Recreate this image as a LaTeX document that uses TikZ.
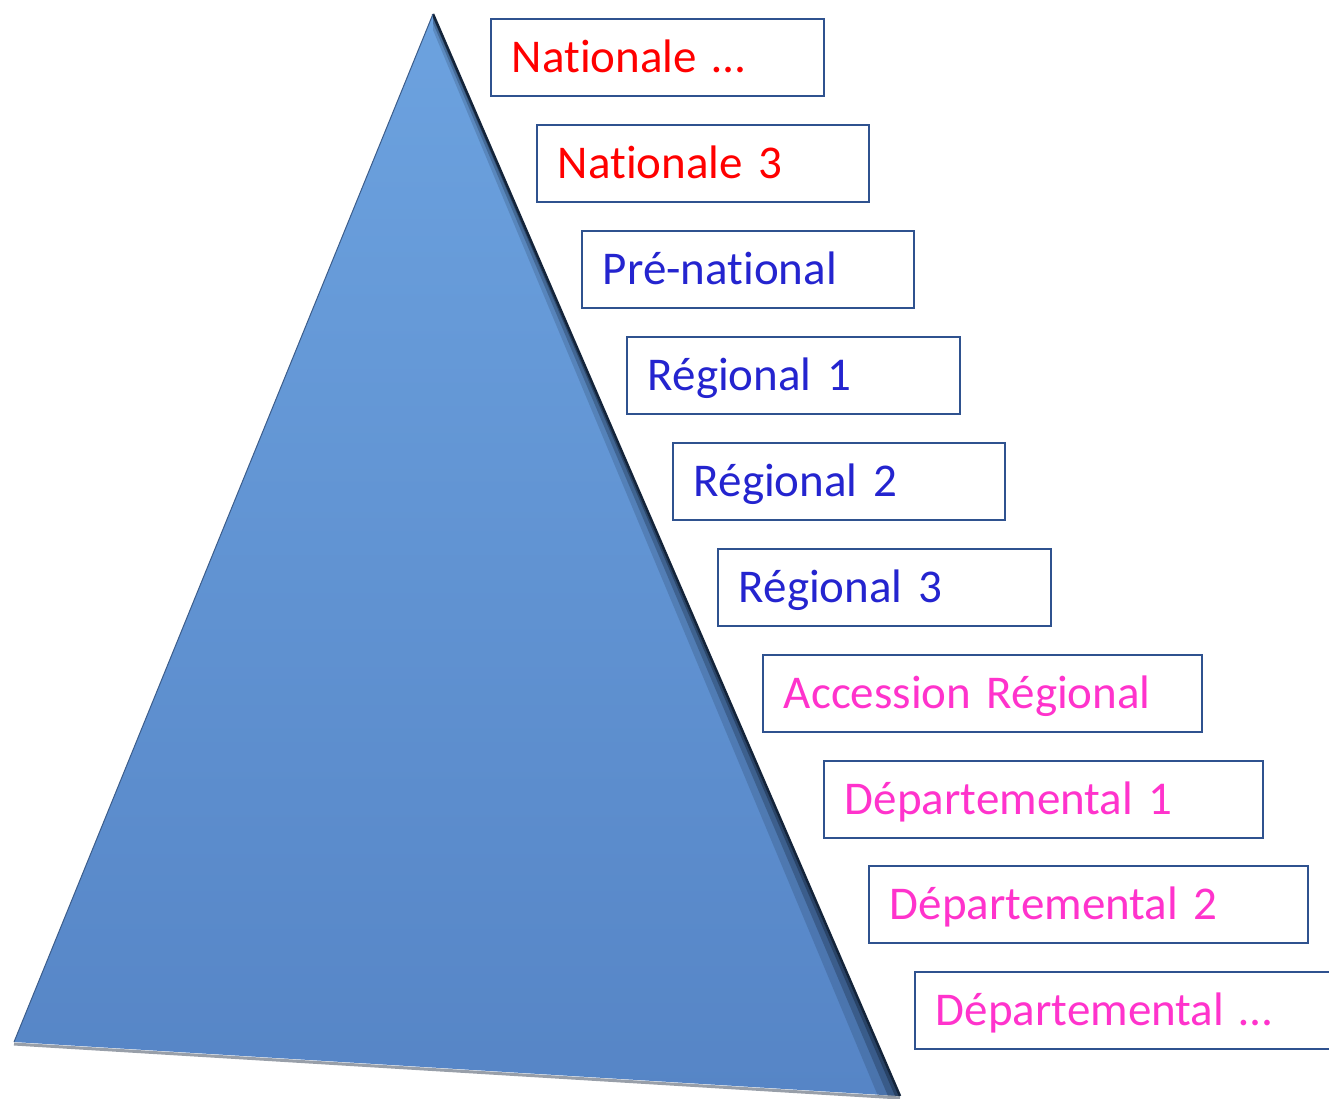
\documentclass[tikz,border=0pt]{standalone}
\usepackage{fontspec}
\setmainfont[Ligatures=NoCommon]{Carlito}
\definecolor{boxline}{HTML}{2F528F}
\definecolor{natred}{HTML}{FF0000}
\definecolor{regblue}{HTML}{2424CF}
\definecolor{depmag}{HTML}{FF33CC}
\definecolor{triTop}{HTML}{6CA2DF}
\definecolor{triBot}{HTML}{5685C6}
\definecolor{triEdge}{HTML}{14243A}
\tikzset{
  lvlbox/.style={draw=boxline, line width=1.8pt, fill=white, rectangle, anchor=north west,
    minimum height=77pt, inner xsep=21pt, inner ysep=0pt, align=left,
    text height=30pt, text depth=0pt, font=\fontsize{47}{50}\selectfont},
}
\begin{document}
\begin{tikzpicture}[x=1pt,y=1pt]
\useasboundingbox (0,0) rectangle (1329,-1098);
% triangle
\coordinate (apex) at (433,-14);
\coordinate (bl) at (14,-1042);
\coordinate (br) at (900,-1096);
\shade[top color=triTop, bottom color=triBot] (apex) -- (br) -- (bl) -- cycle;
% bottom shadow
\draw[line width=3pt, color=triEdge!55!white, opacity=0.8] ([yshift=-2pt]bl) -- ([yshift=-2pt]br);
% right edge shading band
\fill[triEdge, opacity=0.18] (apex) -- (br) -- ([xshift=-22pt]br) -- ([yshift=-16pt]apex) -- cycle;
\fill[triEdge, opacity=0.3] (apex) -- (br) -- ([xshift=-12pt]br) -- ([yshift=-9pt]apex) -- cycle;
\fill[triEdge, opacity=0.45] (apex) -- (br) -- ([xshift=-5pt]br) -- ([yshift=-4pt]apex) -- cycle;
\draw[triEdge, line width=2.5pt] (apex) -- (br);
\draw[triBot!70!black, line width=1pt] (apex) -- (bl);
% boxes
\node[lvlbox, text=natred, text width=291pt] (n1) at (490,-18) {Nationale …};
\node[lvlbox, text=natred, text width=290pt] (n2) at (536,-124) {Nationale 3};
\node[lvlbox, text=regblue, text width=290pt] (n3) at (581,-230) {Pré-national};
\node[lvlbox, text=regblue, text width=291pt] (n4) at (626,-336) {Régional 1};
\node[lvlbox, text=regblue, text width=290pt] (n5) at (672,-442) {Régional 2};
\node[lvlbox, text=regblue, text width=291pt] (n6) at (717,-548) {Régional 3};
\node[lvlbox, text=depmag, text width=397pt] (n7) at (762,-654) {Accession Régional};
\node[lvlbox, text=depmag, text width=397pt] (n8) at (823,-760) {Départemental 1};
\node[lvlbox, text=depmag, text width=397pt] (n9) at (868,-865) {Départemental 2};
\node[lvlbox, text=depmag, text width=400pt] (n10) at (914,-971) {Départemental …};
\end{tikzpicture}
\end{document}
